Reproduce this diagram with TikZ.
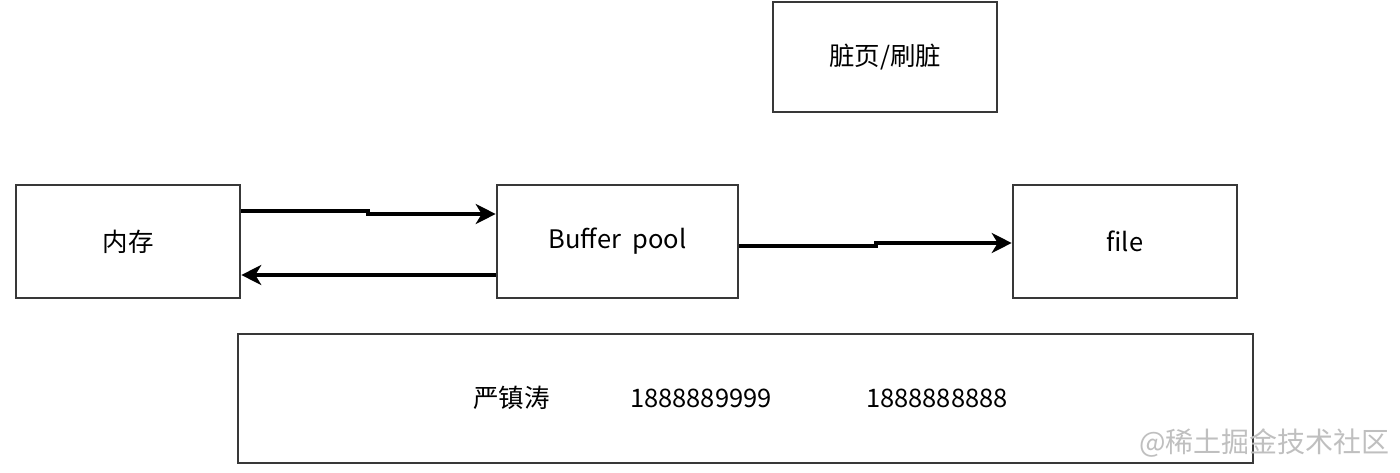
\documentclass[tikz,border=0pt]{standalone}
\usepackage{fontspec}
\setmainfont{Noto Sans CJK SC}
\usetikzlibrary{arrows.meta}
\tikzset{
  txt/.style={font=\fontsize{25.5}{30}\selectfont},
  boxnode/.style={draw=black!78, line width=2.6pt, fill=white, inner sep=0pt, txt},
  flow/.style={line width=3.2pt, -{Stealth[length=20pt,width=20pt,inset=6pt]}},
}
\begin{document}
\begin{tikzpicture}[x=1pt,y=-1pt]
\useasboundingbox (0,0) rectangle (1400,473);
\node[boxnode, minimum width=224pt, minimum height=113pt] (mem) at (128,241.5) {内存};
\node[boxnode, minimum width=241pt, minimum height=113pt] (bp) at (617.5,241.5) {Buffer\ \ pool};
\node[boxnode, minimum width=224pt, minimum height=113pt] (file) at (1125,241.5) {file};
\node[boxnode, minimum width=224pt, minimum height=110pt] (dirty) at (885,57) {脏页/刷脏};
\node[boxnode, minimum width=1015pt, minimum height=129pt] (bottom) at (745.5,398.5) {};
\node[txt, anchor=west, inner sep=0pt] (name) at (473,398) {严镇涛};
\node[txt, anchor=west, inner sep=0pt] (n1) at (630,398) {1888889999};
\node[txt, anchor=west, inner sep=0pt] (n2) at (866,398) {1888888888};
\node[font=\fontsize{28}{32}\selectfont, text=black!25, anchor=east, inner sep=0pt] (wm) at (1390,443) {@稀土掘金技术社区};
\coordinate (a1) at (mem.east |- 0,211);
\coordinate (a2) at (368,211);
\coordinate (a3) at (368,214);
\coordinate (a4) at (bp.west |- 0,214);
\draw[flow] (a1) -- (a2) -- (a3) -- (a4);
\coordinate (b1) at (bp.west |- 0,275);
\coordinate (b2) at (mem.east |- 0,275);
\draw[flow] (b1) -- (b2);
\coordinate (c1) at (bp.east |- 0,246);
\coordinate (c2) at (876,246);
\coordinate (c3) at (876,243);
\coordinate (c4) at (file.west |- 0,243);
\draw[flow] (c1) -- (c2) -- (c3) -- (c4);
\end{tikzpicture}
\end{document}
